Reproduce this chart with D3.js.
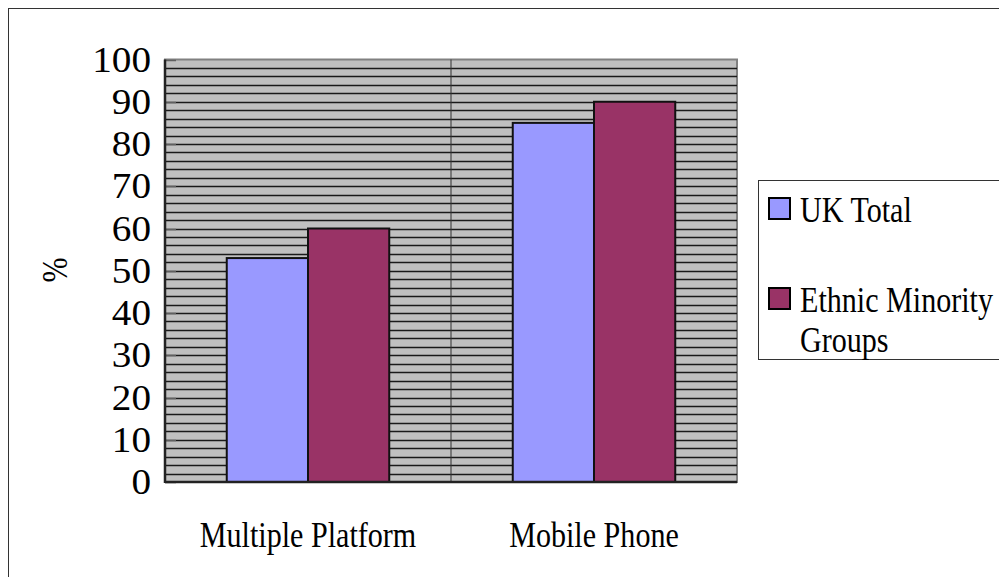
<!DOCTYPE html>
<html><head><meta charset="utf-8">
<script src="https://cdn.jsdelivr.net/npm/d3@7"></script>
<style>html,body{margin:0;padding:0;background:#fff;}svg{display:block;}</style>
</head><body>
<svg id="chart" width="999" height="577"></svg>
<script>
const categories = ["Multiple Platform", "Mobile Phone"];
const seriesNames = ["UK Total", "Ethnic Minority Groups"];
const ukTotal = [53, 85];
const ethnicMinority = [60, 90];
const yTicks = [0,10,20,30,40,50,60,70,80,90,100];
const colors = ["#9999ff", "#993366"];

const svg = d3.select("#chart");
const FONT = "'Liberation Serif', 'DejaVu Serif', serif";
const FS = 35, SX = 0.86, SXD = 1.12;

// outer border
svg.append("rect").attr("x",8.5).attr("y",8.5).attr("width",1000).attr("height",600)
  .attr("fill","none").attr("stroke","#333").attr("stroke-width",1);

const plot = {l:165, r:737, t:59.5, b:482};
const x0 = d3.scaleBand().domain(categories).range([plot.l, plot.r]).paddingInner(0).paddingOuter(0);
const x1 = d3.scaleBand().domain(seriesNames).range([0, x0.bandwidth()]).paddingInner(0).paddingOuter(0.76);
const y = d3.scaleLinear().domain([0,100]).range([plot.b, plot.t]);

const g = svg.append("g");
g.append("rect").attr("x",plot.l).attr("y",plot.t).attr("width",plot.r-plot.l).attr("height",plot.b-plot.t)
  .attr("fill","#c0c0c0").attr("stroke","#808080").attr("stroke-width",2);

// gridlines every 2
const grid = d3.range(2,100,2);
g.selectAll(".grid").data(grid).enter().append("line")
  .attr("x1",plot.l).attr("x2",plot.r)
  .attr("y1",d=>Math.round(y(d))+0.5).attr("y2",d=>Math.round(y(d))+0.5)
  .attr("stroke","#1a1a1a").attr("stroke-width",1.3);

// category divider
g.append("line").attr("x1",x0(categories[1])).attr("x2",x0(categories[1]))
  .attr("y1",plot.t).attr("y2",plot.b).attr("stroke","#333").attr("stroke-width",1);

// major tick marks inside
g.selectAll(".tk").data(yTicks).enter().append("line")
  .attr("x1",plot.l).attr("x2",plot.l+11)
  .attr("y1",d=>Math.round(y(d))+0.5).attr("y2",d=>Math.round(y(d))+0.5)
  .attr("stroke","#606060").attr("stroke-width",1.5);

// bars
const data = categories.map((c,i)=>({cat:c, vals:[ukTotal[i], ethnicMinority[i]]}));
data.forEach(d=>{
  d.vals.forEach((v,j)=>{
    g.append("rect")
      .attr("x", x0(d.cat)+x1(seriesNames[j]))
      .attr("y", y(v))
      .attr("width", x1.bandwidth())
      .attr("height", y(0)-y(v))
      .attr("fill", colors[j]).attr("stroke","#111").attr("stroke-width",2);
  });
});

// axes lines
g.append("line").attr("x1",plot.l).attr("x2",plot.l).attr("y1",plot.t).attr("y2",plot.b+1)
  .attr("stroke","#222").attr("stroke-width",2.5);
g.append("line").attr("x1",plot.l).attr("x2",plot.r).attr("y1",plot.b).attr("y2",plot.b)
  .attr("stroke","#222").attr("stroke-width",2.5);

function addText(x, yy, txt, anchor, sx){
  return svg.append("text").attr("transform",`translate(${x},${yy}) scale(${sx},1)`)
    .attr("text-anchor",anchor).attr("font-family",FONT).attr("font-size",FS).attr("fill","#000").text(txt);
}
// y tick labels
yTicks.forEach(t=>addText(151, y(t)+12, String(t), "end", SXD));

// category labels
categories.forEach(c=>addText(x0(c)+x0.bandwidth()/2, 547, c, "middle", SX));

// y title
svg.append("text").attr("transform","translate(67,270) rotate(-90) scale(0.86,1)")
  .attr("text-anchor","middle").attr("font-family",FONT).attr("font-size",FS).text("%");

// legend
const lg = svg.append("g");
lg.append("rect").attr("x",758.5).attr("y",180.5).attr("width",260).attr("height",179)
  .attr("fill","#fff").attr("stroke","#333").attr("stroke-width",1);
const legRows = [{sy:198, lines:["UK Total"], ty:222},{sy:288, lines:["Ethnic Minority","Groups"], ty:312}];
legRows.forEach((r,i)=>{
  lg.append("rect").attr("x",769).attr("y",r.sy).attr("width",21).attr("height",21)
    .attr("fill",colors[i]).attr("stroke","#000").attr("stroke-width",2);
  r.lines.forEach((ln,k)=>addText(800, r.ty + k*40, ln, "start", SX));
});
</script>
</body></html>
